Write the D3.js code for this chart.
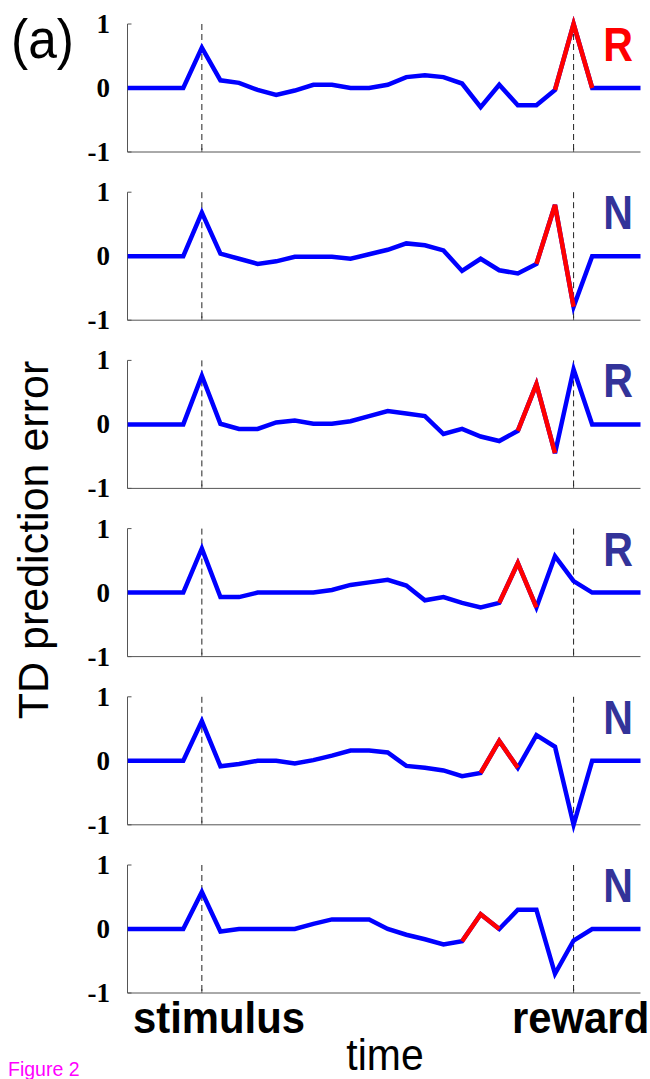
<!DOCTYPE html>
<html>
<head>
<meta charset="utf-8">
<script src="https://cdn.jsdelivr.net/npm/d3@7"></script>
<style>
  body { margin: 0; background: #fff; }
  svg { display: block; }
</style>
</head>
<body>
<svg id="chart" width="650" height="1079"></svg>
<script>
// time steps, stimulus at 0, reward at 20
var time = d3.range(-4, 25);
var stimulusT = 0, rewardT = 20;

// TD error per trial, one value per time step (-4 .. 24)
var trial1 = [0,0,0,0, 0.63,0.12,0.08,-0.03,-0.11,-0.04,0.05,0.05,0,0,0.05,0.17,0.2,0.17,0.07,-0.3,0.05,-0.27,-0.27,-0.03,1.0, 0,0,0,0];
var trial2 = [0,0,0,0, 0.68,0.04,-0.04,-0.12,-0.08,-0.01,-0.01,-0.01,-0.04,0.03,0.1,0.2,0.17,0.09,-0.23,-0.04,-0.22,-0.27,-0.12,0.8,-0.79, 0,0,0,0];
var trial3 = [0,0,0,0, 0.76,0.01,-0.07,-0.07,0.03,0.06,0.01,0.01,0.05,0.13,0.21,0.17,0.13,-0.15,-0.07,-0.19,-0.26,-0.1,0.63,-0.45,0.86, 0,0,0,0];
var trial4 = [0,0,0,0, 0.69,-0.07,-0.07,0,0,0,0,0.04,0.12,0.16,0.2,0.11,-0.12,-0.07,-0.16,-0.23,-0.16,0.46,-0.23,0.57,0.18, 0,0,0,0];
var trial5 = [0,0,0,0, 0.62,-0.085,-0.05,0,0,-0.04,0.01,0.08,0.16,0.16,0.13,-0.08,-0.11,-0.15,-0.24,-0.19,0.31,-0.11,0.4,0.22,-1.0, 0,0,0,0];
var trial6 = [0,0,0,0, 0.58,-0.04,0,0,0,0,0.08,0.15,0.15,0.15,0,-0.09,-0.16,-0.24,-0.19,0.23,0,0.3,0.3,-0.7,-0.18, 0,0,0,0];

var trials = [trial1, trial2, trial3, trial4, trial5, trial6];
var redStart = [19, 18, 17, 16, 15, 14];     // first time step of the red stretch
var labels = ["R", "N", "R", "R", "N", "N"];
var labelColors = ["#ff0000", "#333399", "#333399", "#333399", "#333399", "#333399"];
var yTicks = [-1, 0, 1];

var svg = d3.select("#chart");
var left = 127.5, right = 640.5;
var firstTop = 24, panelH = 128, panelStep = 168.2;

var x = d3.scaleLinear().domain([-4, 23.6]).range([left, right]);

svg.append("defs").append("clipPath").attr("id", "plotclip")
  .append("rect").attr("x", left).attr("y", -10).attr("width", right - left).attr("height", 1100);

trials.forEach(function (vals, i) {
  var top = firstTop + i * panelStep;
  var y = d3.scaleLinear().domain([-1, 1]).range([top + panelH, top]);
  var g = svg.append("g");

  // axes
  g.append("line").attr("x1", left).attr("x2", left).attr("y1", top).attr("y2", top + panelH)
    .attr("stroke", "#555").attr("stroke-width", 1);
  g.append("line").attr("x1", left).attr("x2", right).attr("y1", top + panelH).attr("y2", top + panelH)
    .attr("stroke", "#555").attr("stroke-width", 1);
  g.selectAll(".ytick").data(yTicks).enter().append("line")
    .attr("x1", left).attr("x2", left + 4)
    .attr("y1", function (d) { return y(d); }).attr("y2", function (d) { return y(d); })
    .attr("stroke", "#555");
  g.selectAll(".xtick").data([stimulusT, rewardT]).enter().append("line")
    .attr("x1", function (d) { return x(d); }).attr("x2", function (d) { return x(d); })
    .attr("y1", top + panelH).attr("y2", top + panelH - 4)
    .attr("stroke", "#555");
  g.selectAll(".ylab").data(yTicks).enter().append("text")
    .attr("x", 110).attr("y", function (d) { return y(d) + 9; })
    .attr("text-anchor", "end")
    .style("font-family", "'Liberation Serif', 'Times New Roman', serif")
    .style("font-weight", "bold").style("font-size", "27px")
    .text(function (d) { return d; });

  // event markers
  g.selectAll(".evt").data([stimulusT, rewardT]).enter().append("line")
    .attr("x1", function (d) { return x(d); }).attr("x2", function (d) { return x(d); })
    .attr("y1", top).attr("y2", top + panelH)
    .attr("stroke", "#222").attr("stroke-width", 1).attr("stroke-dasharray", "6,4");

  var pts = time.map(function (t, k) { return [t, vals[k]]; });
  var line = d3.line().x(function (d) { return x(d[0]); }).y(function (d) { return y(d[1]); });

  g.append("path").datum(pts).attr("d", line)
    .attr("clip-path", "url(#plotclip)")
    .attr("fill", "none").attr("stroke", "#0000ff").attr("stroke-width", 4.5)
    .attr("stroke-linejoin", "miter");

  var redPts = pts.filter(function (d) { return d[0] >= redStart[i] && d[0] <= redStart[i] + 2; });
  g.append("path").datum(redPts).attr("d", line)
    .attr("fill", "none").attr("stroke", "#ff0000").attr("stroke-width", 4.5)
    .attr("stroke-linejoin", "miter");

  g.append("text")
    .attr("transform", "translate(633," + (top + 37) + ") scale(0.84,1)")
    .attr("text-anchor", "end")
    .style("font-family", "'Liberation Sans', Arial, sans-serif")
    .style("font-weight", "bold").style("font-size", "49px")
    .attr("fill", labelColors[i])
    .text(labels[i]);
});

var sans = "'Liberation Sans', Arial, Helvetica, sans-serif";

svg.append("text").attr("transform", "translate(11,58) scale(0.92,1)")
  .style("font-family", sans).style("font-size", "56px").text("(a)");

svg.append("text")
  .attr("transform", "translate(48,540) rotate(-90)")
  .attr("text-anchor", "middle")
  .style("font-family", sans).style("font-size", "43px")
  .text("TD prediction error");

svg.append("text").attr("transform", "translate(133,1033) scale(0.93,1)")
  .style("font-family", sans).style("font-weight", "bold").style("font-size", "45px")
  .text("stimulus");
svg.append("text").attr("transform", "translate(512,1033) scale(0.93,1)")
  .style("font-family", sans).style("font-weight", "bold").style("font-size", "45px")
  .text("reward");
svg.append("text").attr("transform", "translate(385,1070) scale(0.93,1)").attr("text-anchor", "middle")
  .style("font-family", sans).style("font-size", "44px")
  .text("time");
svg.append("text").attr("transform", "translate(8,1076) scale(0.93,1)")
  .style("font-family", sans).style("font-size", "21px").attr("fill", "#ff00ff")
  .text("Figure 2");
</script>
</body>
</html>
